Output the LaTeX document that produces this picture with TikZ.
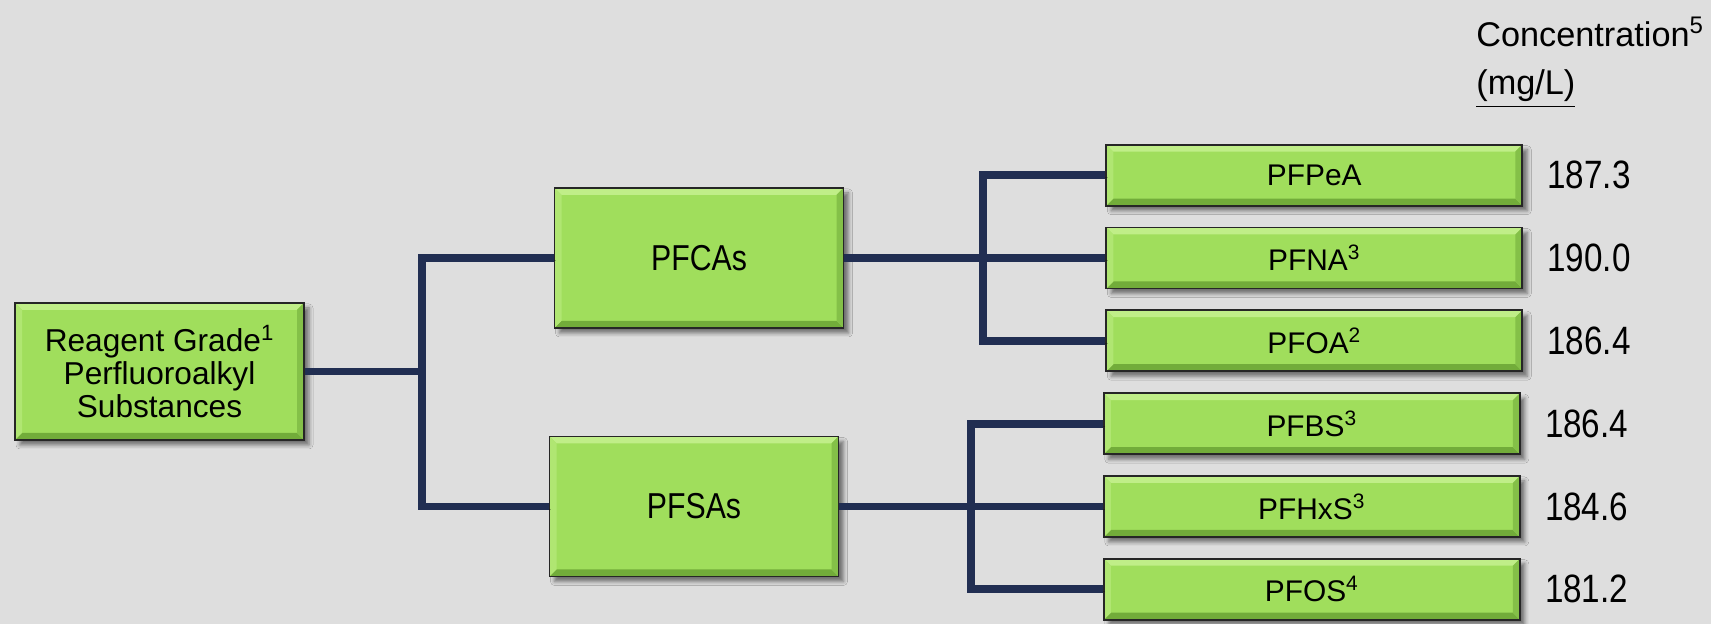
\documentclass[tikz,border=0pt]{standalone}
\usepackage{fontspec}
\setmainfont{Liberation Sans}
\newfontfamily\narrowsans[FakeStretch=0.84]{Liberation Sans}
\usetikzlibrary{positioning,shadows.blur}
\definecolor{Lime}{HTML}{A0DE5C}
\definecolor{LimeLight}{HTML}{C0EE88}
\definecolor{LimeSide}{HTML}{B0E672}
\definecolor{LimeShade}{HTML}{84C048}
\definecolor{LimeDark}{HTML}{72AC3A}
\definecolor{Navy}{HTML}{212E52}
\definecolor{Backdrop}{HTML}{DEDEDE}
\newcommand\bevw{.14cm}

\begin{document}
\begin{tikzpicture}[
  node distance=.4cm,
  bevel/.style={path picture={
    \path (path picture bounding box.south west) coordinate (sw)
      (path picture bounding box.north east) coordinate (ne)
      (path picture bounding box.north west) coordinate (nw)
      (path picture bounding box.south east) coordinate (se);
    \fill[LimeLight] (nw) -- (ne) -- ([shift={(-\bevw,-\bevw)}]ne) -- ([shift={(\bevw,-\bevw)}]nw) -- cycle;
    \fill[LimeDark] (sw) -- (se) -- ([shift={(-\bevw,\bevw)}]se) -- ([shift={(\bevw,\bevw)}]sw) -- cycle;
    \fill[LimeSide] (nw) -- (sw) -- ([shift={(\bevw,\bevw)}]sw) -- ([shift={(\bevw,-\bevw)}]nw) -- cycle;
    \fill[LimeShade] (ne) -- (se) -- ([shift={(-\bevw,\bevw)}]se) -- ([shift={(-\bevw,-\bevw)}]ne) -- cycle;}},
  box/.style={bevel,draw=black!85,line width=1pt,fill=Lime,align=center,
    minimum width=5.78cm,minimum height=2.8cm,inner sep=0pt,
    font=\narrowsans\fontsize{20.5}{24}\selectfont,
    blur shadow={shadow xshift=.1cm,shadow yshift=-.1cm,shadow opacity=50,shadow blur radius=.08cm}},
  leaf/.style={box,minimum width=8.32cm,minimum height=1.22cm,
    font=\fontsize{17}{20}\selectfont},
  value/.style={inner sep=0pt,right=.48cm of #1,font=\narrowsans\fontsize{22.5}{26}\selectfont},
  head/.style={anchor=base west,inner sep=0pt,font=\fontsize{19.5}{22}\selectfont},
  link/.style={line width=4.5pt,draw=Navy,
    preaction={draw=black,opacity=.25,transform canvas={shift={(.05cm,-.05cm)}}}}]
\fill[Backdrop] (0,0) rectangle (34.22,12.48);
\useasboundingbox (0,0) rectangle (34.22,12.48);

% groups
\node[box,minimum height=2.74cm,font=\fontsize{18}{19}\selectfont](root) at (3.19,5.05)
  {Reagent Grade\textsuperscript{1}\\Perfluoroalkyl\\Substances};
\node[box](pfca) at (13.98,7.32){PFCAs};
\node[box](pfsa) at (13.88,2.35){PFSAs};

% acids
\node[leaf,right=5.22cm of pfca](pfna){PFNA\textsuperscript{3}};
\node[leaf,above=of pfna](pfpea){PFPeA};
\node[leaf,below=of pfna](pfoa){PFOA\textsuperscript{2}};
\node[leaf,right=5.27cm of pfsa](pfhxs){PFHxS\textsuperscript{3}};
\node[leaf,above=of pfhxs](pfbs){PFBS\textsuperscript{3}};
\node[leaf,below=of pfhxs](pfos){PFOS\textsuperscript{4}};

% concentrations
\node[head](conc) at (29.52,11.54){Concentration\textsuperscript{5}};
\node[head](unit) at (29.52,10.58){\underline{(mg/L)\rule[-.26em]{0pt}{1pt}}};
\node[value=pfpea](c1){187.3};
\node[value=pfna](c2){190.0};
\node[value=pfoa](c3){186.4};
\node[value=pfbs](c4){186.4};
\node[value=pfhxs](c5){184.6};
\node[value=pfos](c6){181.2};

% tree
\coordinate[right=2.34cm of root.east](j1);
\coordinate[right=2.78cm of pfca.east](j2);
\coordinate[right=2.64cm of pfsa.east](j3);
\draw[link](root)--(j1);
\draw[link](pfca.west)-|(j1)|-(pfsa.west);
\draw[link](pfpea.west)-|(j2)|-(pfoa.west);
\draw[link](pfca)--(pfna);
\draw[link](pfbs.west)-|(j3)|-(pfos.west);
\draw[link](pfsa)--(pfhxs);
\end{tikzpicture}
\end{document}
